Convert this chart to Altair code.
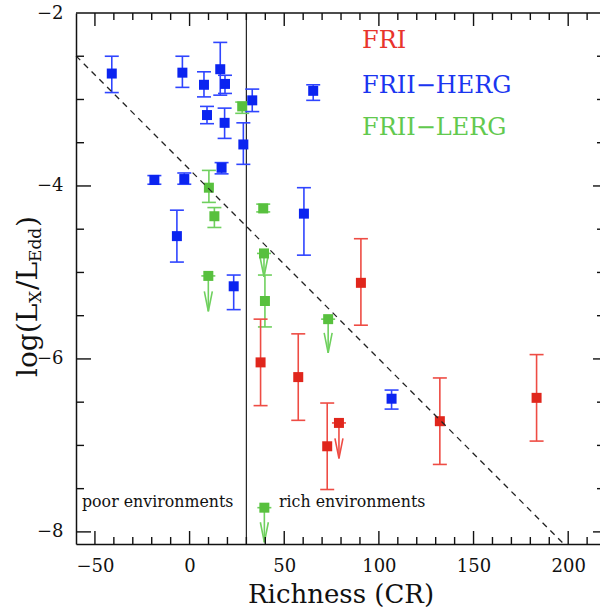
import altair as alt
import pandas as pd

# ---------------- data ----------------
# FRII-HERG (blue) detections
herg_x  = [-41.1, -3.8, 7.6, 16.2, 18.7, 9.2, 18.5, 28.4, 33.1, 16.9, -18.6, -2.8, -6.7, 23.3, 65.3, 60.4, 106.7]
herg_y  = [-2.70, -2.69, -2.83, -2.65, -2.82, -3.18, -3.27, -3.52, -3.01, -3.79, -3.93, -3.92, -4.58, -5.16, -2.90, -4.32, -6.46]
herg_lo = [-2.92, -2.86, -2.97, -2.95, -2.93, -3.28, -3.45, -3.75, -3.14, -3.86, -3.98, -3.98, -4.88, -5.43, -3.01, -4.80, -6.58]
herg_hi = [-2.50, -2.50, -2.68, -2.34, -2.72, -3.08, -3.10, -3.27, -2.88, -3.73, -3.88, -3.85, -4.28, -5.03, -2.83, -4.02, -6.36]

# FRII-LERG (green) detections
lerg_x  = [27.8, 10.2, 13.1, 38.9, 39.8]
lerg_y  = [-3.08, -4.02, -4.35, -4.26, -5.33]
lerg_lo = [-3.16, -4.19, -4.48, -4.30, -5.63]
lerg_hi = [-3.03, -3.82, -4.25, -4.21, -5.03]
# FRII-LERG upper limits
lerg_ul_x   = [9.9, 39.3, 73.2, 39.5]
lerg_ul_y   = [-5.04, -4.78, -5.54, -7.72]
lerg_ul_tip = [-5.45, -5.05, -5.93, -8.12]

# FRI (red) detections
fri_x  = [90.5, 37.5, 57.4, 72.7, 132.2, 183.3]
fri_y  = [-5.12, -6.04, -6.21, -7.01, -6.72, -6.45]
fri_lo = [-5.61, -6.54, -6.71, -7.51, -7.22, -6.95]
fri_hi = [-4.61, -5.54, -5.71, -6.51, -6.22, -5.95]
# FRI upper limits
fri_ul_x   = [78.9]
fri_ul_y   = [-6.74]
fri_ul_tip = [-7.15]

# dashed relation and divider
fit_x = [-60, 197.7]
fit_y = [-2.496, -8.14]
divider_x = [30]

# axis ticks / labels
x_labels = [-50, 0, 50, 100, 150, 200]
x_minor = [-40, -30, -20, -10, 10, 20, 30, 40, 60, 70, 80, 90, 110, 120, 130, 140, 160, 170, 180, 190, 210]
y_labels = [-8, -6, -4, -2]
y_major = [-8, -6, -4]
y_minor = [-7.5, -7, -6.5, -5.5, -5, -4.5, -3.5, -3, -2.5]

# ---------------- chart ----------------
W, H = 524, 531
FONT = "DejaVu Serif"
INK = "#111111"

xs = alt.Scale(domain=[-60, 216.8], nice=False, zero=False)
ys = alt.Scale(domain=[-8.14, -2], nice=False, zero=False)
xaxis = alt.Axis(values=x_labels, ticks=False, grid=False, domainColor=INK, domainWidth=1.5,
                 labelFont=FONT, labelFontSize=18, labelColor=INK, labelPadding=13,
                 title=None, labelFlush=False)
yaxis = alt.Axis(values=y_labels, ticks=False, grid=False, domainColor=INK, domainWidth=1.5,
                 labelFont=FONT, labelFontSize=18, labelColor=INK, labelPadding=13,
                 title=None, labelFlush=False)


def X(f="x"):
    return alt.X(f"{f}:Q", scale=xs, axis=xaxis)


def Y(f="y"):
    return alt.Y(f"{f}:Q", scale=ys, axis=yaxis)


ARROW = "M-0.2,-1 L0,0 L0.2,-1"

layers = []


def detections(xv, yv, lo, hi, mk, bar):
    df = pd.DataFrame({"x": xv, "y": yv, "lo": lo, "hi": hi})
    c = alt.Chart(df)
    return [
        c.mark_rule(color=bar, strokeWidth=1.6).encode(x=X(), y=Y("lo"), y2="hi"),
        c.mark_tick(color=bar, size=14, thickness=1.6, orient="horizontal", opacity=1).encode(x=X(), y=Y("lo")),
        c.mark_tick(color=bar, size=14, thickness=1.6, orient="horizontal", opacity=1).encode(x=X(), y=Y("hi")),
        c.mark_square(size=100, color=mk, opacity=1).encode(x=X(), y=Y()),
    ]


def limits(xv, yv, tip, mk, bar):
    df = pd.DataFrame({"x": xv, "y": yv, "tip": tip})
    c = alt.Chart(df)
    return [
        c.mark_rule(color=bar, strokeWidth=1.6).encode(x=X(), y=Y("y"), y2="tip"),
        c.mark_point(shape=ARROW, size=1600, filled=False, color=bar, strokeWidth=1.6, opacity=1).encode(x=X(), y=Y("tip")),
        c.mark_tick(color=bar, size=14, thickness=1.6, orient="horizontal", opacity=1).encode(x=X(), y=Y("y")),
        c.mark_square(size=100, color=mk, opacity=1).encode(x=X(), y=Y()),
    ]


BLUE_M, BLUE_B = "#0b24f0", "#2f45ff"
RED_M, RED_B = "#e0261c", "#ee4c44"
GREEN_M, GREEN_B = "#58c03e", "#6fd05e"

# divider line
layers.append(alt.Chart(pd.DataFrame({"x": divider_x})).mark_rule(color="#222222", strokeWidth=1.2).encode(x=X()))

layers += limits(lerg_ul_x, lerg_ul_y, lerg_ul_tip, GREEN_M, GREEN_B)
layers += detections(lerg_x, lerg_y, lerg_lo, lerg_hi, GREEN_M, GREEN_B)
layers += detections(fri_x, fri_y, fri_lo, fri_hi, RED_M, RED_B)
layers += limits(fri_ul_x, fri_ul_y, fri_ul_tip, RED_M, RED_B)
layers += detections(herg_x, herg_y, herg_lo, herg_hi, BLUE_M, BLUE_B)

# dashed relation
layers.append(alt.Chart(pd.DataFrame({"x": fit_x, "y": fit_y})).mark_line(
    color="#222222", strokeWidth=1.3, strokeDash=[6, 5]).encode(x=X(), y=Y()))

# inward ticks
xmaj = alt.Chart(pd.DataFrame({"v": x_labels}))
xmin = alt.Chart(pd.DataFrame({"v": x_minor}))
ymaj = alt.Chart(pd.DataFrame({"v": y_major}))
ymin = alt.Chart(pd.DataFrame({"v": y_minor}))
TK = dict(color=INK, strokeWidth=1.4)
layers += [
    xmaj.mark_rule(**TK).encode(x=X("v"), y=alt.value(H), y2=alt.value(H - 13)),
    xmin.mark_rule(**TK).encode(x=X("v"), y=alt.value(H), y2=alt.value(H - 7)),
    xmaj.mark_rule(**TK).encode(x=X("v"), y=alt.value(0), y2=alt.value(13)),
    xmin.mark_rule(**TK).encode(x=X("v"), y=alt.value(0), y2=alt.value(7)),
    ymaj.mark_rule(**TK).encode(y=Y("v"), x=alt.value(0), x2=alt.value(15)),
    ymin.mark_rule(**TK).encode(y=Y("v"), x=alt.value(0), x2=alt.value(8)),
    ymaj.mark_rule(**TK).encode(y=Y("v"), x=alt.value(W - 7), x2=alt.value(W)),
    ymin.mark_rule(**TK).encode(y=Y("v"), x=alt.value(W - 3), x2=alt.value(W)),
]

one = alt.Chart(pd.DataFrame({"k": [0]}))
# top frame line
layers.append(one.mark_rule(color=INK, strokeWidth=1.5).encode(x=alt.value(0), x2=alt.value(W), y=alt.value(0)))


def label(txt, x, y, size, color=INK, angle=0, align="left"):
    return one.mark_text(text=txt, font=FONT, fontSize=size, color=color, align=align,
                         baseline="alphabetic", angle=angle).encode(x=alt.value(x), y=alt.value(y))


# legend
layers += [
    label("FRI", 286, 35, 24, "#e8342c"),
    label("FRII\u2212HERG", 286, 80, 24, "#1a35f0"),
    label("FRII\u2212LERG", 286, 122, 24, "#62c94e"),
]
# region labels
layers += [
    label("poor environments", 6, 493.5, 15.8),
    label("rich environments", 203, 493.5, 15.8),
]
# axis titles
layers.append(label("Richness (CR)", 265, 590, 26, align="center"))
layers += [
    label("log(L", -39, 364, 28, angle=270),
    label("X", -35, 290, 17, angle=270),
    label("/L", -39, 277, 28, angle=270),
    label("Edd", -35, 249, 17, angle=270),
    label(")", -39, 214, 28, angle=270),
]

chart = alt.layer(*layers).properties(
    width=W, height=H,
    padding={"left": 76, "top": 13, "right": 0, "bottom": 68},
    autosize=alt.AutoSizeParams(type="none"),
    background="white",
).configure_view(stroke=None)

chart.save("out.html", embed_options={"renderer": "svg", "actions": False})
